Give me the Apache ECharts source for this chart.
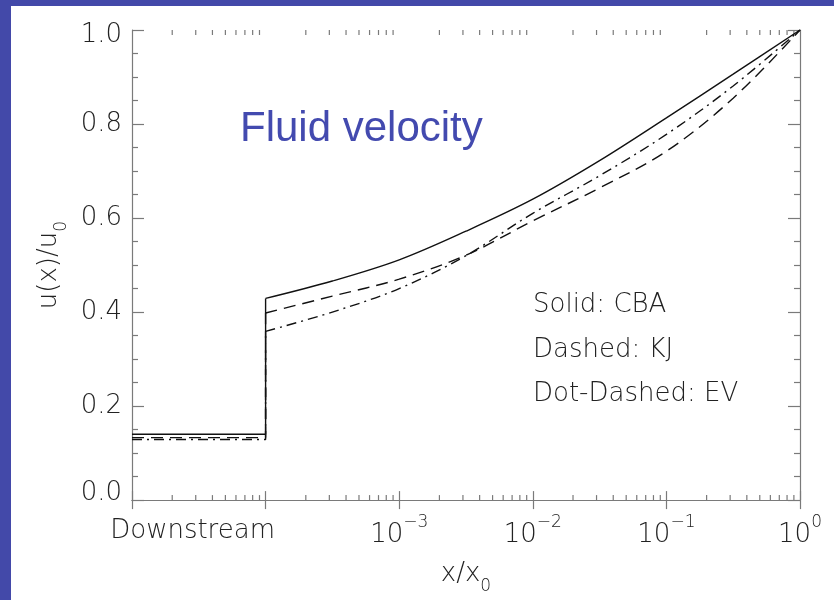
<!DOCTYPE html>
<html>
<head>
<meta charset="utf-8">
<script src="https://cdn.jsdelivr.net/npm/echarts@6/dist/echarts.min.js"></script>
<style>
  html, body { margin: 0; padding: 0; background: #ffffff; }
  #chart { width: 834px; height: 600px; }
</style>
</head>
<body>
<div id="chart"></div>
<script>
// Fluid velocity u(x)/u0 against x/x0 for three shock models.
// Left of x/x0 = 1e-4 is the downstream region (flat profile), then the jump.

// Downstream span and the downstream velocity of each model
const downX = [1e-5, 1e-4];
const cbaDown = 0.140;
const kjDown = 0.133;
const evDown = 0.129;

// Upstream profiles, sampled at half decades from the jump up to x0
const upX = [1e-4, 3.16e-4, 1e-3, 3.16e-3, 1e-2, 3.16e-2, 1e-1, 3.16e-1, 1];
const cbaUp = [0.429, 0.466, 0.511, 0.572, 0.640, 0.722, 0.813, 0.906, 1.0];
const kjUp  = [0.398, 0.434, 0.470, 0.521, 0.594, 0.664, 0.742, 0.855, 1.0];
const evUp  = [0.359, 0.400, 0.450, 0.520, 0.610, 0.690, 0.778, 0.881, 1.0];

// Axis ticks
const yTickValues = [0, 0.2, 0.4, 0.6, 0.8, 1.0];
const logDecades = [-5, -4, -3, -2, -1];
const minorMultipliers = [2, 3, 4, 5, 6, 7, 8, 9];

// Annotations
const titleText = 'Fluid velocity';
const legendLines = ['Solid: CBA', 'Dashed: KJ', 'Dot-Dashed: EV'];
const downstreamLabel = 'Downstream';

const minorTickData = [];
logDecades.forEach(d => minorMultipliers.forEach(m => minorTickData.push([m * Math.pow(10, d), 0])));

const labelFont = 'DejaVu Sans';
const labelWeight = 200;
const labelColor = '#222222';
const frameColor = '#7a7a7a';
const lineColor = '#111111';
const blue = '#4349a9';

const chart = echarts.init(document.getElementById('chart'), null, { renderer: 'canvas' });

const txt = (size, extra) => Object.assign({ fontSize: size, fontFamily: labelFont, fontWeight: labelWeight, color: labelColor }, extra || {});

const xRich = {
  b: txt(26, { lineHeight: 34, verticalAlign: 'bottom' }),
  s: txt(17, { lineHeight: 17, verticalAlign: 'top' }),
  d: txt(26, { lineHeight: 34, padding: [0, 146, 0, 0] })
};

const nameRich = {
  m: txt(26, { lineHeight: 26, verticalAlign: 'top' }),
  sub: txt(17, { lineHeight: 17, padding: [25, 0, 0, 0] })
};

const yAxisCommon = {
  type: 'value',
  min: 0,
  max: 1,
  interval: 0.2,
  splitLine: { show: false },
  axisLine: { show: true, lineStyle: { color: frameColor, width: 1.2 } },
  axisTick: { show: true, inside: true, length: 12, lineStyle: { color: frameColor, width: 1.2 } },
  minorTick: { show: true, splitNumber: 4, length: 6, lineStyle: { color: frameColor, width: 1.2 } },
  minorSplitLine: { show: false }
};

const xAxisCommon = {
  type: 'log',
  logBase: 10,
  min: 1e-5,
  max: 1,
  splitLine: { show: false },
  axisLine: { show: true, lineStyle: { color: frameColor, width: 1.2 } },
  axisTick: { show: true, inside: true, length: 9, lineStyle: { color: frameColor, width: 1.2 } },
  minorTick: { show: false },
  minorSplitLine: { show: false }
};

function curve(name, data, type, smooth) {
  return {
    name: name,
    type: 'line',
    data: data,
    xAxisIndex: 0,
    yAxisIndex: 0,
    symbol: 'none',
    smooth: smooth,
    clip: true,
    lineStyle: { color: lineColor, width: 1.4, type: type },
    emphasis: { disabled: true },
    z: 3
  };
}

// Downstream plateau plus the vertical jump to the first upstream value
const stepData = (level, up) => [[downX[0], level], [downX[1], level], [upX[0], up[0]]];
const upData = (up) => upX.map((x, i) => [x, up[i]]);

const dashKJ = [12, 7];
const dashEV = [10, 5, 2, 5];

const option = {
  backgroundColor: '#ffffff',
  animation: false,
  grid: { left: 132, top: 30, right: 34, bottom: 98, containLabel: false },
  xAxis: [
    Object.assign({}, xAxisCommon, {
      position: 'bottom',
      name: 'x/x{sub|0}',
      nameLocation: 'middle',
      nameGap: 44,
      nameTextStyle: txt(26, { rich: nameRich }),
      axisLabel: Object.assign(txt(26), {
        show: true,
        margin: 14,
        rich: xRich,
        formatter: function (v) {
          const e = Math.round(Math.log10(v));
          if (e === -5) return '';
          if (e === -4) return '{d|' + downstreamLabel + '}';
          return '{b|10}{s|' + (e < 0 ? '\u2212' + (-e) : String(e)) + '}';
        }
      })
    }),
    Object.assign({}, xAxisCommon, {
      position: 'top',
      axisLabel: { show: false }
    })
  ],
  yAxis: [
    Object.assign({}, yAxisCommon, {
      position: 'left',
      name: 'u(x)/u{sub|0}',
      nameLocation: 'middle',
      nameGap: 70,
      nameTextStyle: txt(26, { rich: nameRich }),
      axisLabel: Object.assign(txt(26), {
        show: true,
        margin: 10,
        rich: {
          hi: txt(26, { padding: [10, 0, 0, 0] }),
          lo: txt(26, { padding: [0, 0, 14, 0] })
        },
        formatter: function (v) {
          const t = v.toFixed(1);
          if (Math.abs(v - yTickValues[yTickValues.length - 1]) < 1e-9) return '{hi|' + t + '}';
          if (Math.abs(v - yTickValues[0]) < 1e-9) return '{lo|' + t + '}';
          return t;
        }
      })
    }),
    Object.assign({}, yAxisCommon, {
      position: 'right',
      axisLabel: { show: false }
    })
  ],
  series: [
    curve('CBA downstream', stepData(cbaDown, cbaUp), 'solid', false),
    curve('KJ downstream', stepData(kjDown, kjUp), dashKJ, false),
    curve('EV downstream', stepData(evDown, evUp), dashEV, false),
    curve('CBA', upData(cbaUp), 'solid', 0.35),
    curve('KJ', upData(kjUp), dashKJ, 0.35),
    curve('EV', upData(evUp), dashEV, 0.35),
    {
      name: 'minorTicks',
      type: 'custom',
      xAxisIndex: 0,
      yAxisIndex: 0,
      silent: true,
      clip: false,
      data: minorTickData,
      encode: { x: 0, y: 1 },
      renderItem: function (params, api) {
        const x = api.value(0);
        const b = api.coord([x, 0]);
        const t = api.coord([x, 1]);
        const st = { stroke: frameColor, lineWidth: 1.2 };
        return {
          type: 'group',
          children: [
            { type: 'line', shape: { x1: b[0], y1: b[1], x2: b[0], y2: b[1] - 5 }, style: st },
            { type: 'line', shape: { x1: t[0], y1: t[1], x2: t[0], y2: t[1] + 5 }, style: st }
          ]
        };
      },
      z: 2
    }
  ],
  graphic: [
    { type: 'rect', shape: { x: 0, y: 0, width: 834, height: 6 }, style: { fill: blue }, z: 100 },
    { type: 'rect', shape: { x: 0, y: 0, width: 11, height: 600 }, style: { fill: blue }, z: 100 },
    {
      type: 'text', x: 240, y: 129, z: 50,
      style: { text: titleText, fontSize: 42, fontFamily: 'Liberation Sans', fill: '#434aaf', align: 'left', verticalAlign: 'middle' }
    },
    {
      type: 'text', x: 533, y: 305, z: 50,
      style: { text: legendLines[0], fontSize: 26, fontFamily: labelFont, fontWeight: labelWeight, fill: labelColor, align: 'left', verticalAlign: 'middle' }
    },
    {
      type: 'text', x: 533, y: 350, z: 50,
      style: { text: legendLines[1], fontSize: 26, fontFamily: labelFont, fontWeight: labelWeight, fill: labelColor, align: 'left', verticalAlign: 'middle' }
    },
    {
      type: 'text', x: 533, y: 394, z: 50,
      style: { text: legendLines[2], fontSize: 26, fontFamily: labelFont, fontWeight: labelWeight, fill: labelColor, align: 'left', verticalAlign: 'middle' }
    }
  ]
};

chart.setOption(option);
</script>
</body>
</html>
